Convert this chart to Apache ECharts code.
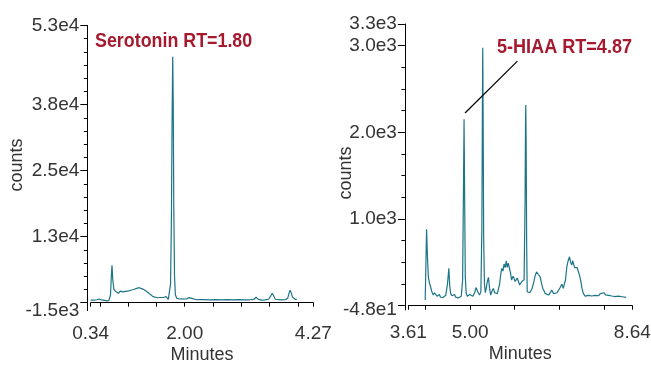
<!DOCTYPE html>
<html>
<head>
<meta charset="utf-8">
<script src="https://cdn.jsdelivr.net/npm/echarts@6/dist/echarts.min.js"></script>
<style>
  html, body { margin: 0; padding: 0; background: #fff; }
  #chart { width: 651px; height: 365px; }
</style>
</head>
<body>
<div id="chart"></div>
<script>
// left panel: serotonin trace
const leftTime = [0.34, 0.40, 0.45, 0.49, 0.53, 0.58, 0.62, 0.66, 0.69, 0.705, 0.716, 0.73, 0.75, 0.787, 0.81, 0.83, 0.86, 0.887, 0.91, 0.928, 0.95, 0.976, 1.02, 1.064, 1.10, 1.15, 1.198, 1.23, 1.27, 1.31, 1.357, 1.40, 1.44, 1.475, 1.52, 1.56, 1.594, 1.63, 1.67, 1.69, 1.71, 1.735, 1.75, 1.765, 1.778, 1.788, 1.797, 1.807, 1.82, 1.835, 1.858, 1.90, 1.94, 1.975, 2.03, 2.08, 2.105, 2.14, 2.18, 2.25, 2.35, 2.45, 2.55, 2.65, 2.75, 2.85, 2.95, 3.05, 3.15, 3.22, 3.26, 3.30, 3.36, 3.42, 3.48, 3.52, 3.546, 3.57, 3.60, 3.624, 3.70, 3.78, 3.82, 3.845, 3.86, 3.88, 3.90, 3.92, 3.95, 3.98];
const leftCounts = [500, 480, 560, 700, 520, 420, 340, 380, 1500, 5200, 7100, 4300, 2500, 2080, 1900, 1780, 2200, 2400, 2050, 1970, 2150, 2100, 2250, 2400, 2500, 2700, 2840, 2750, 2530, 2250, 1900, 1500, 1150, 950, 930, 980, 950, 1020, 1140, 900, 640, 900, 3500, 16000, 36000, 46600, 38000, 18000, 5000, 1500, 830, 700, 720, 640, 700, 950, 1140, 780, 640, 560, 580, 550, 570, 540, 560, 530, 560, 520, 550, 640, 1020, 620, 500, 520, 650, 1300, 1780, 1300, 650, 500, 520, 560, 900, 1900, 2350, 1900, 1100, 830, 640, 640];

// right panel: 5-HIAA trace
const rightTime = [3.99, 4.02, 4.04, 4.06, 4.085, 4.11, 4.14, 4.17, 4.20, 4.23, 4.255, 4.28, 4.31, 4.33, 4.36, 4.39, 4.42, 4.45, 4.47, 4.49, 4.52, 4.54, 4.56, 4.59, 4.62, 4.65, 4.67, 4.70, 4.73, 4.77, 4.80, 4.83, 4.848, 4.862, 4.876, 4.89, 4.91, 4.935, 4.96, 4.99, 5.03, 5.06, 5.10, 5.13, 5.15, 5.18, 5.21, 5.24, 5.262, 5.275, 5.282, 5.29, 5.302, 5.32, 5.34, 5.36, 5.385, 5.41, 5.435, 5.46, 5.49, 5.52, 5.55, 5.58, 5.61, 5.63, 5.66, 5.69, 5.71, 5.735, 5.76, 5.785, 5.81, 5.83, 5.855, 5.88, 5.905, 5.93, 5.96, 5.985, 6.01, 6.03, 6.055, 6.08, 6.11, 6.135, 6.16, 6.18, 6.21, 6.232, 6.242, 6.248, 6.256, 6.268, 6.28, 6.31, 6.34, 6.36, 6.39, 6.43, 6.46, 6.49, 6.51, 6.53, 6.55, 6.57, 6.60, 6.63, 6.66, 6.68, 6.72, 6.76, 6.80, 6.83, 6.87, 6.91, 6.95, 6.98, 7.02, 7.06, 7.09, 7.11, 7.14, 7.17, 7.20, 7.23, 7.255, 7.28, 7.30, 7.32, 7.345, 7.37, 7.40, 7.43, 7.455, 7.48, 7.51, 7.54, 7.58, 7.62, 7.66, 7.70, 7.73, 7.77, 7.80, 7.84, 7.88, 7.92, 7.96, 8.00, 8.04, 8.07, 8.11, 8.15, 8.18, 8.22, 8.26, 8.29, 8.33, 8.37, 8.41, 8.45, 8.50];
const rightCounts = [66, 881, 560, 335, 260, 219, 160, 123, 150, 143, 110, 97, 130, 100, 123, 95, 85, 120, 143, 250, 431, 230, 143, 115, 104, 130, 100, 123, 90, 85, 110, 300, 1300, 2150, 1200, 330, 143, 110, 97, 130, 123, 110, 150, 210, 200, 150, 123, 160, 900, 2400, 2976, 2200, 800, 250, 150, 200, 280, 327, 200, 123, 170, 200, 150, 162, 140, 123, 250, 380, 431, 400, 481, 440, 519, 443, 490, 469, 380, 296, 340, 316, 280, 258, 320, 304, 240, 227, 280, 258, 300, 1200, 2100, 2315, 1900, 700, 162, 180, 150, 143, 200, 277, 350, 390, 412, 360, 380, 335, 260, 200, 170, 143, 150, 123, 150, 181, 140, 123, 150, 162, 210, 250, 200, 181, 300, 450, 520, 565, 500, 469, 520, 508, 440, 420, 440, 392, 350, 296, 200, 143, 110, 97, 120, 100, 112, 95, 120, 97, 115, 140, 123, 150, 125, 143, 120, 135, 112, 130, 105, 123, 110, 125, 104, 118, 97];

// axes
const leftXRange = [0.34, 4.27];
const leftXTicks = [0.34, 0.5, 1.0, 1.5, 2.0, 2.5, 3.0, 3.5, 4.0, 4.27];
const leftXLabels = [0.34, 2.00, 4.27];
const leftYRange = [-1500, 52500];
const leftYLabelValues = [-1500, 12500, 25000, 37500, 52500];
const leftYLabels = ['-1.5e3', '1.3e4', '2.5e4', '3.8e4', '5.3e4'];
const leftYMajor = [0, 12500, 25000, 37500, 52500];

const rightXRange = [3.61, 8.64];
const rightXTicks = [3.61, 4, 5, 6, 7, 8, 8.64];
const rightXLabels = [3.61, 5.00, 8.64];
const rightYRange = [-48, 3250];
const rightYLabelValues = [-48, 1000, 2000, 3000, 3250];
const rightYLabels = ['-4.8e1', '1.0e3', '2.0e3', '3.0e3', '3.3e3'];
const rightYMajor = [0, 1000, 2000, 3000, 3250];

// annotations
const leftNote = 'Serotonin RT=1.80';
const rightNote = '5-HIAA RT=4.87';
const rightNoteLine = [[4.884, 2223], [6.06, 2822]];

function minorTicks(max, step, majors) {
    const out = [];
    for (let v = 0; v <= max + 1e-9; v += step) {
        if (majors.indexOf(v) < 0) out.push(v);
    }
    return out;
}

const FONT = '"Liberation Sans", Arial, sans-serif';
const TRACE = '#1c7489';
const NOTE = '#a6192e';

const chart = echarts.init(document.getElementById('chart'));

function xAxis(grid, range, ticks, labels) {
    return {
        type: 'value', gridIndex: grid, min: range[0], max: range[1],
        offset: 3.6,
        name: 'Minutes', nameLocation: 'middle', nameGap: 32, nameMoveOverlap: false,
        nameTextStyle: { fontFamily: FONT, fontSize: 18, color: '#333' },
        axisLine: { lineStyle: { color: '#000', width: 1 } },
        axisTick: { customValues: ticks, length: 4, lineStyle: { color: '#000' } },
        axisLabel: {
            customValues: labels, margin: 10,
            fontFamily: FONT, fontSize: 19, color: '#333',
            formatter: v => v.toFixed(2)
        },
        splitLine: { show: false }
    };
}

function yMajor(grid, range, majors, lv, lt, gap, shift) {
    return {
        type: 'value', gridIndex: grid, min: range[0], max: range[1],
        position: 'left', offset: 3.4,
        name: 'counts', nameLocation: 'middle', nameGap: gap, nameMoveOverlap: false,
        nameTextStyle: { fontFamily: FONT, fontSize: 18, color: '#333', padding: shift },
        axisLine: { show: true, lineStyle: { color: '#000', width: 1 } },
        axisTick: { customValues: majors, length: 7, lineStyle: { color: '#000' } },
        axisLabel: {
            customValues: lv, margin: 8,
            fontFamily: FONT, fontSize: 19, color: '#333',
            formatter: v => lt[lv.indexOf(v)]
        },
        splitLine: { show: false }
    };
}

function yMinor(grid, range, minors) {
    return {
        type: 'value', gridIndex: grid, min: range[0], max: range[1],
        position: 'left', offset: 3.4,
        axisLine: { show: false },
        axisTick: { customValues: minors, length: 3.5, lineStyle: { color: '#000' } },
        axisLabel: { show: false },
        splitLine: { show: false }
    };
}

const option = {
    animation: false,
    grid: [
        { left: 90.7, top: 25.5, width: 222.6, height: 285.1, outerBoundsMode: 'none' },
        { left: 408.3, top: 24, width: 224, height: 285.9, outerBoundsMode: 'none' }
    ],
    xAxis: [
        xAxis(0, leftXRange, leftXTicks, leftXLabels),
        xAxis(1, rightXRange, rightXTicks, rightXLabels)
    ],
    yAxis: [
        yMajor(0, leftYRange, leftYMajor, leftYLabelValues, leftYLabels, 61, [0, 0, 0, 6]),
        yMinor(0, leftYRange, minorTicks(52500, 2500, leftYMajor)),
        yMajor(1, rightYRange, rightYMajor, rightYLabelValues, rightYLabels, 50, [0, 12, 0, 0]),
        yMinor(1, rightYRange, minorTicks(3250, 250, rightYMajor))
    ],
    series: [
        {
            type: 'line', xAxisIndex: 0, yAxisIndex: 0,
            data: leftTime.map((t, i) => [t, leftCounts[i]]),
            showSymbol: false, lineStyle: { color: TRACE, width: 1.2 }
        },
        {
            type: 'line', xAxisIndex: 1, yAxisIndex: 2,
            data: rightTime.map((t, i) => [t, rightCounts[i]]),
            showSymbol: false, lineStyle: { color: TRACE, width: 1.2 },
            markLine: {
                silent: true, symbol: 'none', label: { show: false },
                lineStyle: { color: '#000', width: 1.2, type: 'solid' },
                data: [[{ coord: rightNoteLine[0] }, { coord: rightNoteLine[1] }]]
            }
        }
    ],
    graphic: [
        {
            type: 'text', x: 95, y: 31, scaleX: 0.85,
            style: { text: leftNote, fill: NOTE, font: 'bold 21px ' + FONT, textAlign: 'left', textVerticalAlign: 'top' }
        },
        {
            type: 'text', x: 497, y: 37, scaleX: 0.86,
            style: { text: rightNote, fill: NOTE, font: 'bold 21px ' + FONT, textAlign: 'left', textVerticalAlign: 'top' }
        }
    ]
};

chart.setOption(option);
</script>
</body>
</html>
